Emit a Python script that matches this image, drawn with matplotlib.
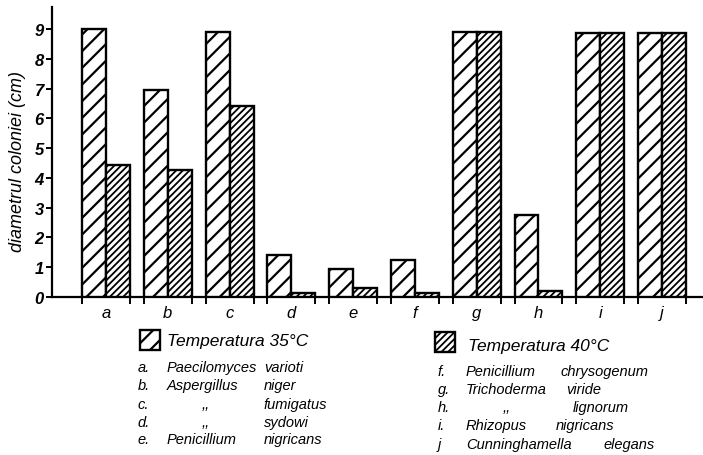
import matplotlib
matplotlib.use("Agg")
import matplotlib.pyplot as plt
from matplotlib.patches import Rectangle
import numpy as np

# Colony diameter (cm) of each fungus after growth at two temperatures
letters = ["a", "b", "c", "d", "e", "f", "g", "h", "i", "j"]
temp_35 = [9.0, 6.95, 8.9, 1.4, 0.95, 1.25, 8.9, 2.75, 8.85, 8.85]
temp_40 = [4.45, 4.25, 6.4, 0.15, 0.3, 0.15, 8.9, 0.2, 8.85, 8.85]
yticks = list(range(10))

label_35 = "Temperatura 35°C"
label_40 = "Temperatura 40°C"
species_left = [("a.", "Paecilomyces", "varioti"),
                ("b.", "Aspergillus", "niger"),
                ("c.", ",,", "fumigatus"),
                ("d.", ",,", "sydowi"),
                ("e.", "Penicillium", "nigricans")]
species_right = [("f.", "Penicillium", "chrysogenum"),
                 ("g.", "Trichoderma", "viride"),
                 ("h.", ",,", "lignorum"),
                 ("i.", "Rhizopus", "nigricans"),
                 ("j", "Cunninghamella", "elegans")]

W, H = 703, 456
fig = plt.figure(figsize=(W / 100, H / 100), dpi=100)
plt.rcParams["font.family"] = ["Liberation Sans", "DejaVu Sans"]


def fx(px):
    return px / W


def fy(py):
    return 1 - py / H


ax = fig.add_axes([fx(52), fy(298), fx(703 - 52), (298 - 8) / H])

x = np.arange(len(letters))
bw = 0.388
HATCH_35 = "//"
HATCH_40 = "/////"
HLW_35 = 1.6
HLW_40 = 1.3


def hatched_bars(xs, vals, hatch, hlw):
    with plt.rc_context({"hatch.linewidth": hlw, "hatch.color": "black"}):
        bars = ax.bar(xs, vals, width=bw, align="edge", facecolor="white",
                      edgecolor="black", linewidth=1.7, hatch=hatch, zorder=3)
        for b in bars:
            if hasattr(b, "set_hatch_linewidth"):
                b.set_hatch_linewidth(hlw)
    return bars


hatched_bars(x - bw, temp_35, HATCH_35, HLW_35)
hatched_bars(x, temp_40, HATCH_40, HLW_40)

ax.set_xlim(-0.874, 9.663)
ax.set_ylim(0, 9.74)

for s in ("top", "right"):
    ax.spines[s].set_visible(False)
ax.spines["left"].set_linewidth(1.6)
ax.spines["bottom"].set_linewidth(1.6)

ax.set_yticks(yticks)
ax.set_yticklabels([str(v) for v in yticks], fontsize=12,
                   fontweight="bold", style="italic")
ax.tick_params(axis="y", direction="out", length=4, width=1.4, pad=2)

ax.set_xticks(x)
ax.set_xticklabels(letters, fontsize=12, style="italic")
ax.tick_params(axis="x", which="major", length=0, pad=6)
edges = np.concatenate([x - bw, x + bw])
ax.set_xticks(np.sort(edges), minor=True)
ax.tick_params(axis="x", which="minor", direction="out", length=5, width=1.4)

fig.text(fx(18), fy(162), "diametrul coloniei (cm)", rotation=90,
         ha="center", va="center", fontsize=13, style="italic")

# Legend swatches
for (px, py, hatch, hlw) in [(140, 331, HATCH_35, HLW_35), (435, 333, HATCH_40, HLW_40)]:
    with plt.rc_context({"hatch.linewidth": hlw}):
        r = Rectangle((fx(px), fy(py + 20)), 20 / W, 20 / H,
                      transform=fig.transFigure, facecolor="white",
                      edgecolor="black", linewidth=1.7, hatch=hatch)
        if hasattr(r, "set_hatch_linewidth"):
            r.set_hatch_linewidth(hlw)
    fig.add_artist(r)

fig.text(fx(167), fy(342), label_35, ha="left", va="center",
         fontsize=12.5, style="italic")
fig.text(fx(468), fy(346), label_40, ha="left", va="center",
         fontsize=12.5, style="italic")

FS = 10.5
left_rows_y = [368, 386, 405, 423, 440]
for (lt, w1, w2), yy in zip(species_left, left_rows_y):
    fig.text(fx(138), fy(yy), lt, ha="left", va="center", fontsize=FS, style="italic")
    w1x = 202 if w1 == ",," else 167
    fig.text(fx(w1x), fy(yy), w1, ha="left", va="center", fontsize=FS, style="italic")
    fig.text(fx(264), fy(yy), w2, ha="left", va="center", fontsize=FS, style="italic")

right_rows_y = [372, 390, 408, 426, 445]
right_second_x = [561, 566, 573, 556, 603]
for (lt, w1, w2), yy, x2 in zip(species_right, right_rows_y, right_second_x):
    fig.text(fx(438), fy(yy), lt, ha="left", va="center", fontsize=FS, style="italic")
    w1x = 503 if w1 == ",," else 466
    fig.text(fx(w1x), fy(yy), w1, ha="left", va="center", fontsize=FS, style="italic")
    fig.text(fx(x2), fy(yy), w2, ha="left", va="center", fontsize=FS, style="italic")

fig.savefig("out.png", dpi=100, facecolor="white")
